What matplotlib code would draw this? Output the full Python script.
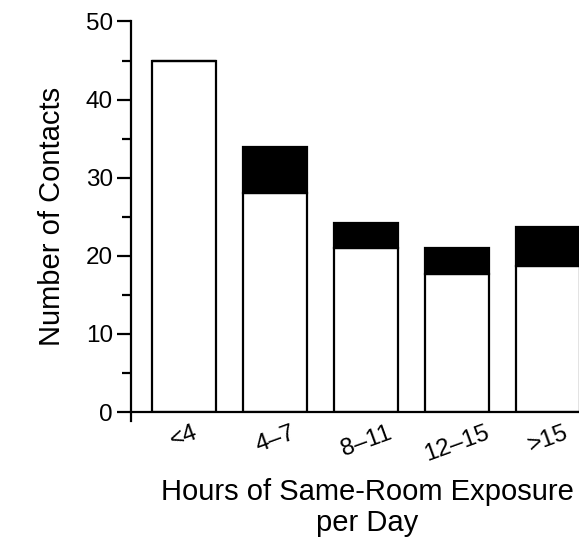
import matplotlib
matplotlib.use("Agg")
from matplotlib import pyplot as plt
import numpy as np

# data
categories = ["<4", "4\u20137", "8\u201311", "12\u201315", ">15"]
white_part = [45.0, 28.1, 21.0, 17.7, 18.7]
black_part = [0.0, 5.8, 3.2, 3.3, 5.0]

plt.rcParams['font.family'] = ['Liberation Sans', 'DejaVu Sans']

fig = plt.figure(figsize=(5.79, 5.41), dpi=100)
# axes runs off the right edge, like the cropped original
ax = fig.add_axes([0.2263, 0.2384, 0.815, 0.7219])

x = np.arange(len(categories))
ax.bar(x, white_part, width=0.70, color='white', edgecolor='black', linewidth=1.6, zorder=2)
ax.bar(x, black_part, width=0.70, bottom=white_part, color='black', edgecolor='black',
       linewidth=1.6, zorder=2)

ax.set_xlim(-0.582, 4.6)
ax.set_ylim(0, 50)

for s in ['top', 'right']:
    ax.spines[s].set_visible(False)
for s in ['left', 'bottom']:
    ax.spines[s].set_linewidth(1.6)
ax.spines['left'].set_bounds(-1.1, 50)

ax.set_yticks(np.arange(0, 51, 10))
ax.set_yticks(np.arange(5, 50, 10), minor=True)
ax.tick_params(axis='y', which='major', length=10, width=1.6, labelsize=17.5, pad=3)
ax.tick_params(axis='y', which='minor', length=6.5, width=1.6)

ax.set_xticks(x)
ax.set_xticklabels(categories, rotation=20, fontsize=17.5)
ax.tick_params(axis='x', length=0, pad=7)

ax.set_ylabel("Number of Contacts", fontsize=21, labelpad=14)
ax.set_xlabel("Hours of Same-Room Exposure\nper Day", fontsize=21, labelpad=9,
              linespacing=1.12)

fig.savefig("out.png", dpi=100)
